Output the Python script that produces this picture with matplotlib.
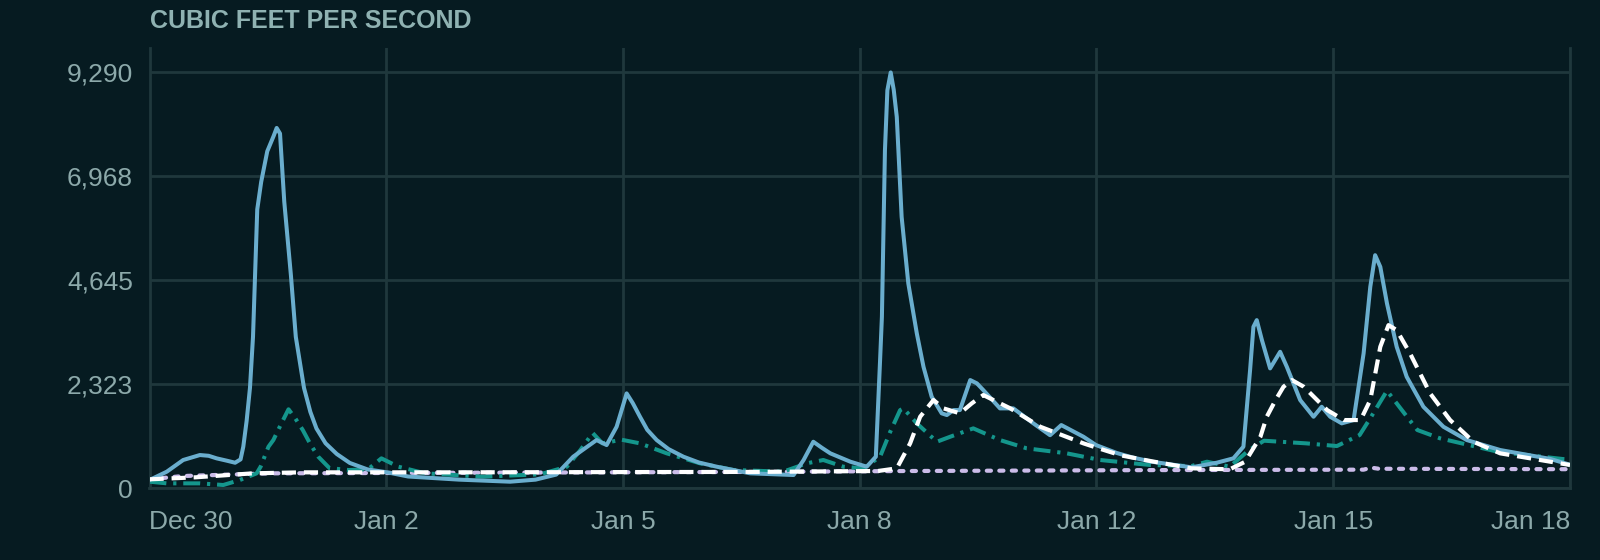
import matplotlib
matplotlib.use("Agg")
import matplotlib.pyplot as plt
from datetime import datetime, timedelta

# hours since Dec 30 00:00 and discharge (cfs)

blue_h = [0, 5.7, 11.1, 16.6, 19.5, 22.1, 25.5, 28.2, 30.0, 30.9, 32.0, 33.1, 34.1, 35.5, 36.8,
          38.8, 40.9, 41.9, 43.0, 44.4, 46.6, 48.2, 50.9, 53, 55, 58, 61.7, 66, 71.8, 78.6,
          85.2, 102, 118.8, 127.2, 134, 139.6, 147.3, 150.6, 153.9, 157.2, 159.2, 161.6, 164,
          167.1, 171, 175.9, 181, 186.9, 197.9, 212.2, 215.5, 218.7, 221.5, 224.3, 230.9,
          236.3, 239.3, 240.7, 241.3, 242.3, 243.1, 244.2, 245.2, 246.2, 247.8, 250, 252.8,
          255, 257.7, 261, 262.7, 264.9, 267, 270.4, 272.6, 274.7, 280.2, 284.6, 291.2, 296.7,
          300.4, 307.7, 311.8, 318.7, 324, 330.2, 343.3, 351.6, 357.1, 360.4, 361.4, 362.6,
          363.7, 364.8, 366.5, 369.2, 372.5, 374.7, 379.1, 383.5, 386.2, 389, 392.8, 396.7,
          400, 402.2, 403.8, 405.5, 407.7, 410.9, 414.2, 419.7, 426.3, 434, 445, 461.5, 468]
blue_v = [179, 365, 626, 737, 720, 663, 610, 565, 640, 923, 1500, 2238, 3380, 6228, 6845,
          7528, 7870, 8049, 7924, 6400, 4747, 3380, 2238, 1700, 1331, 1000, 760, 560, 416, 347,
          257, 187, 141, 187, 300, 700, 1072, 960, 1370, 2115, 1900, 1593, 1300,
          1072, 870, 700, 570, 476, 328, 290, 626, 1034, 900, 775, 588,
          476, 700, 2860, 3827, 7550, 8890, 9290, 8900, 8295, 6061, 4573, 3456,
          2710, 2040, 1669, 1631, 1742, 1742, 2413, 2339, 2189, 1780, 1780, 1445, 1180,
          1407, 1146, 961, 782, 680, 588, 462, 565, 663, 923, 1700, 2636,
          3604, 3753, 3306, 2674, 3045, 2710, 1966, 1593, 1816, 1593, 1445, 1519,
          3009, 4497, 5205, 4944, 4126, 3157, 2486, 1816, 1369, 1072, 849, 650, 520]

teal_h = [0, 5.7, 16.6, 24.3, 29.8, 35.3, 36.6, 39.2, 40.8, 43.5, 45.8, 48, 50.5, 53, 55.6,
          59.3, 65.6, 72, 76.4, 82, 90.8, 109.8, 128.7, 137.5, 142, 146, 149.2, 155.5, 161.6,
          170.4, 181.4, 192.4, 208.8, 216.5, 222, 228.6, 235.2, 240.7, 244, 247.3, 248.4,
          252.8, 259.4, 263.8, 271.4, 280.2, 289, 302.2, 313.2, 329.7, 343.3, 348.4, 355.9,
          362.3, 367.2, 381.1, 391.2, 398.7, 402.5, 407.7, 412.6, 417.7, 425.2, 444.2, 465.6,
          468]
teal_v = [141, 104, 104, 67, 179, 328, 476, 923, 1072, 1450, 1760, 1560, 1296, 980, 700,
          444, 402, 418, 663, 476, 328, 253, 306, 476, 850, 1230, 998, 1080, 998,
          775, 551, 402, 365, 551, 626, 476, 439, 700, 1250, 1742, 1780,
          1445, 1034, 1146, 1333, 1072, 887, 775, 626, 514, 491, 588, 476,
          849, 1057, 998, 938, 1184, 1593, 2174, 1742, 1296, 1110, 811, 648,
          640]

white_h = [0, 15.2, 34.1, 50, 100, 150, 200, 240, 246.2, 250.6, 253.9, 258.3, 261.6, 267,
           270.9, 274.7, 283.6, 293.5, 307.7, 313, 320, 330, 343.3, 355.9, 361, 366, 368.1,
           371, 373.6, 376.4, 380.3, 388, 393.5, 399, 402.2, 405.5, 408.2, 410.9, 415.3,
           421.9, 428.5, 436.2, 445, 461.5, 468]
white_v = [194, 239, 328, 350, 350, 355, 360, 380, 439, 998, 1593, 1966, 1780, 1669,
           1892, 2078, 1780, 1369, 998, 880, 730, 600, 440, 418, 588, 1146, 1593,
           1966, 2263, 2413, 2263, 1742, 1519, 1519, 1966, 3157, 3641, 3530, 3009,
           2116, 1519, 1034, 775, 588, 514]

lav_h = [0, 11, 40, 100, 200, 250, 330, 400, 402.5, 405, 468]
lav_v = [194, 268, 328, 340, 360, 380, 400, 410, 455, 430, 420]

yticks = [0, 2323, 4645, 6968, 9290]

bg = "#061b21"
grid_c = "#1f383c"
text_c = "#8ca9aa"

t0 = datetime(2019, 12, 30)

def to_dates(hours):
    return [t0 + timedelta(hours=h) for h in hours]

plt.rcParams['font.family'] = ['Liberation Sans', 'DejaVu Sans']

fig = plt.figure(figsize=(16, 5.6), dpi=100, facecolor=bg)
ax = fig.add_axes([149.5/1600, 1-488/560, (1570-149.5)/1600, (488-48.3)/560])
ax.set_facecolor(bg)

ax.plot(to_dates(lav_h), lav_v, color="#cbbce9", lw=3.0, linestyle=(0, (1.0, 2.0)),
        dash_capstyle='round', zorder=2)
ax.plot(to_dates(teal_h), teal_v, color="#14968c", lw=2.9, linestyle=(0, (4.2, 1.7, 0.8, 1.7)),
        solid_joinstyle='round', zorder=3)
ax.plot(to_dates(blue_h), blue_v, color="#6aaece", lw=2.9, solid_joinstyle='round',
        solid_capstyle='round', zorder=4)
ax.plot(to_dates(white_h), white_v, color="#ffffff", lw=3.0, linestyle=(0, (3.4, 1.9)),
        zorder=5)

ax.set_ylim(0, 9830)
ax.set_xlim(t0, t0 + timedelta(hours=468))

ax.set_yticks(yticks)
ax.set_yticklabels([f"{v:,}" for v in yticks])

xt = [t0 + timedelta(hours=78*k) for k in range(7)]
ax.set_xticks(xt)
ax.set_xticklabels([f"{d:%b} {d.day}" for d in xt])
labs = ax.get_xticklabels()
labs[0].set_horizontalalignment('left')
labs[-1].set_horizontalalignment('right')

ax.grid(True, color=grid_c, lw=2)
ax.set_axisbelow(True)
for s in ['left', 'right', 'bottom']:
    ax.spines[s].set_color(grid_c)
    ax.spines[s].set_linewidth(2)
ax.spines['top'].set_visible(False)

ax.tick_params(axis='both', length=0, labelsize=19, labelcolor=text_c)
ax.tick_params(axis='y', pad=12)
ax.tick_params(axis='x', pad=16)

fig.text(150/1600, 1-20.5/560, "CUBIC FEET PER SECOND", color="#8fb2b2", fontsize=18,
         fontweight='bold', va='center', ha='left')

plt.savefig("out.png", dpi=100, facecolor=bg)
plt.close()
